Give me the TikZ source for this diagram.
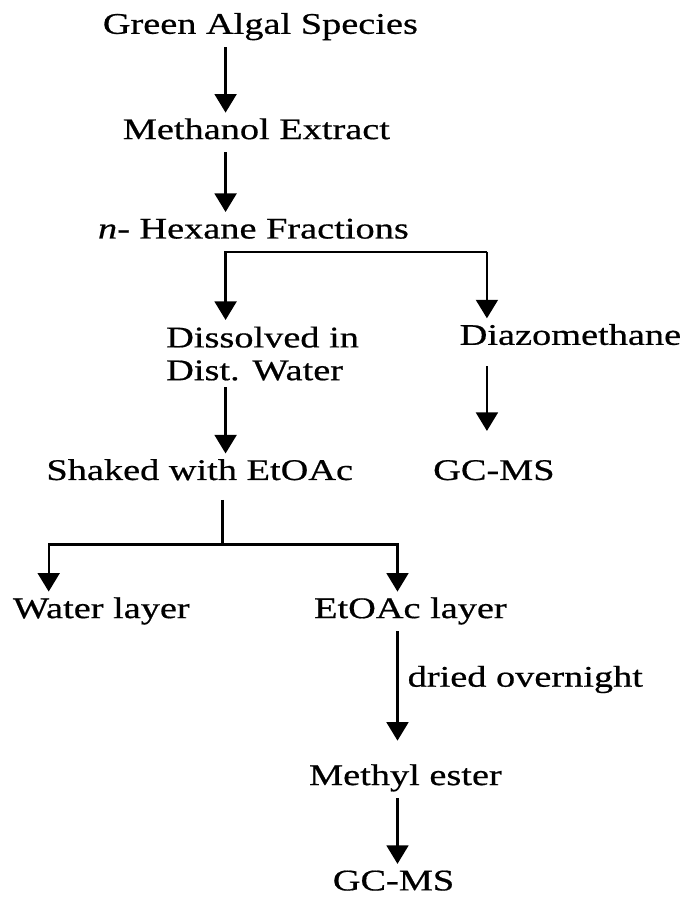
\documentclass[tikz,border=0pt]{standalone}
\usepackage{fontspec}
\setmainfont{Liberation Serif}[FakeStretch=1.28,FakeBold=0.6]
\usepackage{tikz}
\usetikzlibrary{arrows.meta}

\begin{document}
\begin{tikzpicture}[x=0.75pt,y=-0.75pt,
  txt/.style={inner sep=0pt,outer ysep=5pt,font=\fontsize{22.6}{24.75}\selectfont},
  lbl/.style={txt,text height=15pt,text depth=5pt,anchor=base},
  flow/.style={line width=1.8pt,-{Triangle[width=16.5pt,length=14pt]}},
  link/.style={line width=1.8pt}]
\fill[white] (0,0) rectangle (688,897);

\coordinate (c1) at (227,0);
\coordinate (c2) at (490,0);
\coordinate (c3) at (49,0);
\coordinate (c4) at (400,0);
\coordinate (fork) at (224,548);

\node[lbl] (green) at (262,34) {Green Algal Species};
\node[lbl] (methanol) at (258,140) {Methanol Extract};
\node[lbl] (hexane) at (255,240) {\textit{n}- Hexane Fractions};
\node[txt,anchor=north west,align=left] (dissolved) at (167,322) {Dissolved in\\Dist. Water};
\node[lbl] (diazo) at (574,347) {Diazomethane};
\node[lbl] (shaked) at (201,483) {Shaked with EtOAc};
\node[lbl] (gcms1) at (497,483) {GC-MS};
\node[lbl] (water) at (102,622) {Water layer};
\node[lbl] (etoac) at (413,622) {EtOAc layer};
\node[lbl,anchor=base west] (dried) at (410,691) {dried overnight};
\node[lbl] (methyl) at (408,790) {Methyl ester};
\node[lbl] (gcms2) at (396,896) {GC-MS};

\draw[flow] (green.south -| c1) -- (methanol.north -| c1);
\draw[flow] (methanol.south -| c1) -- (hexane.north -| c1);
\draw[flow] (hexane.south -| c2) -| (dissolved.north -| c1);
\draw[flow] (hexane.south -| c2) -- (diazo.north -| c2);
\draw[flow] (dissolved.south -| c1) -- (shaked.north -| c1);
\draw[flow,shorten <=6pt,shorten >=17pt] (diazo.south -| c2) -- (gcms1.north -| c2);
\draw[link,shorten <=5pt] (shaked.south -| fork) -- (fork);
\draw[flow] (fork) -| (water.north -| c3);
\draw[flow] (fork) -| (etoac.north -| c4);
\draw[flow,shorten >=13.5pt] (etoac.south -| c4) -- (methyl.north -| c4);
\draw[flow] (methyl.south -| c4) -- (gcms2.north -| c4);
\end{tikzpicture}
\end{document}
